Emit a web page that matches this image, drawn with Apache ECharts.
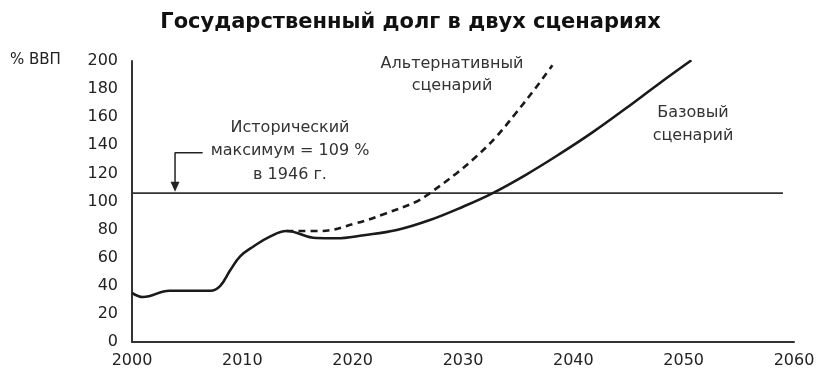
<!DOCTYPE html>
<html>
<head>
<meta charset="utf-8">
<script src="https://cdn.jsdelivr.net/npm/echarts@6/dist/echarts.min.js"></script>
<style>html,body{margin:0;padding:0;background:#fff}#c{width:821px;height:374px}</style>
</head>
<body>
<div id="c"></div>
<script>
var baseScenario = [[2000,35],[2001,32],[2003.4,36.5],[2007.1,36.5],[2008,40],[2008.9,51],[2009.8,61],[2011,68],[2012.5,75],[2014,79],[2016.7,74],[2018.5,73.8],[2021,76],[2024,79.7],[2027,86.8],[2030,96.3],[2032.7,106],[2035.7,119],[2038.7,133.5],[2041.7,149],[2044.8,166.5],[2047.7,183.5],[2050.7,200.5]];
var altScenario = [[2014,79],[2017,79],[2020.3,84.5],[2023,91.5],[2025.8,100],[2027,106],[2029.4,120],[2031.2,132],[2033,146],[2034.8,163],[2036.6,181],[2038.1,197]];
var historicalMax = [[2000,106],[2059,106]];
var arrowPath = [[2006.4,134.7],[2003.9,134.7],[2003.9,110.5]];
var xTicks = [2000,2010,2020,2030,2040,2050,2060];
var yTicks = [0,20,40,60,80,100,120,140,160,180,200];

var FONT = 'DejaVu Sans';
var chart = echarts.init(document.getElementById('c'), null, {renderer:'canvas'});
chart.setOption({
  animation:false,
  backgroundColor:'#fff',
  title:{text:'Государственный долг в двух сценариях', left:'center', top:7,
    textStyle:{fontFamily:FONT, fontWeight:'bold', fontSize:21, color:'#111'}},
  grid:{left:132, right:27, top:61, bottom:32},
  xAxis:{type:'value', min:xTicks[0], max:xTicks[xTicks.length-1], interval:10,
    axisLine:{lineStyle:{color:'#333', width:2}}, axisTick:{show:false}, splitLine:{show:false},
    axisLabel:{fontFamily:FONT, fontSize:16, color:'#222', margin:11, formatter:function(v){return String(v);}}},
  yAxis:{type:'value', min:yTicks[0], max:yTicks[yTicks.length-1], interval:20,
    axisLine:{show:true, lineStyle:{color:'#333', width:2}}, axisTick:{show:false}, splitLine:{show:false},
    axisLabel:{fontFamily:FONT, fontSize:16, color:'#222', margin:14}},
  graphic:[
    {type:'text', left:10, top:53, style:{text:'% ВВП', font:'15px '+FONT, fill:'#222'}},
    {type:'text', x:290, y:116, style:{text:'Исторический\nмаксимум = 109 %\nв 1946 г.', font:'16px '+FONT, fill:'#333', align:'center', lineHeight:23.5}},
    {type:'text', x:452, y:53, style:{text:'Альтернативный\nсценарий', font:'16px '+FONT, fill:'#333', align:'center', lineHeight:22}},
    {type:'text', x:693, y:101, style:{text:'Базовый\nсценарий', font:'16px '+FONT, fill:'#333', align:'center', lineHeight:23}}
  ],
  series:[
    {type:'line', data:historicalMax, symbol:'none', lineStyle:{color:'#333', width:1.8}, z:1},
    {type:'line', data:arrowPath.map(function(p,i){
        return i===arrowPath.length-1 ? {value:p, symbol:'triangle', symbolSize:[9,10], symbolRotate:180} : {value:p, symbol:'none'};
      }), showSymbol:true, itemStyle:{color:'#222'}, lineStyle:{color:'#222', width:1.5}, z:2},
    {type:'line', data:baseScenario, smooth:0.4, symbol:'none', lineStyle:{color:'#1a1a1a', width:2.6}, z:3},
    {type:'line', data:altScenario, smooth:0.4, symbol:'none', lineStyle:{color:'#1a1a1a', width:2.6, type:[7,5]}, z:3}
  ]
});
</script>
</body>
</html>
